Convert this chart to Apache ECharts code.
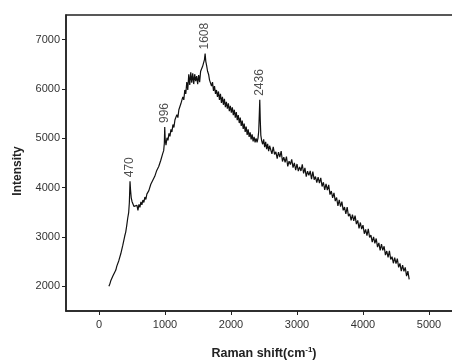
<!DOCTYPE html>
<html>
<head>
<meta charset="utf-8">
<script src="https://cdn.jsdelivr.net/npm/echarts@6/dist/echarts.min.js"></script>
<style>
html,body{margin:0;padding:0;background:#fff}
#main{width:452px;height:360px}
</style>
</head>
<body>
<div id="main"></div>
<script>
// Raman spectrum, [shift cm-1, intensity]
var spectrum=[
[150,2000],[165,2050],[180,2120],[195,2100],[210,2210],[225,2250],[240,2230],[255,2330],[270,2410],[285,2390],
[300,2520],[315,2560],[330,2660],[345,2700],[360,2830],[375,2870],[390,3020],[405,3100],[420,3230],[435,3380],
[450,3500],[460,3700],[470,4130],[478,3950],[488,3800],[500,3720],[515,3680],[530,3620],[545,3660],[560,3580],
[575,3640],[590,3540],[605,3660],[620,3600],[635,3710],[650,3650],[665,3750],[680,3700],[695,3810],[710,3760],
[725,3870],[740,3860],[755,3940],[770,3950],[785,4070],[800,4030],[815,4150],[830,4160],[845,4230],[860,4270],
[875,4350],[890,4370],[905,4430],[920,4490],[935,4550],[950,4580],[965,4690],[980,4750],[990,4900],[996,5230],
[1003,4980],[1015,4860],[1030,5010],[1045,4960],[1060,5100],[1075,5040],[1090,5180],[1105,5130],[1120,5280],[1135,5220],
[1150,5370],[1165,5340],[1180,5480],[1195,5420],[1210,5580],[1225,5550],[1240,5700],[1255,5680],[1270,5840],[1285,5780],
[1300,5980],[1315,5900],[1330,6140],[1345,5980],[1360,6300],[1375,6080],[1390,6340],[1405,6130],[1420,6320],[1435,6100],
[1450,6300],[1465,6160],[1480,6260],[1495,6100],[1510,6280],[1525,6140],[1540,6360],[1555,6370],[1570,6460],[1585,6490],
[1597,6590],[1608,6720],[1618,6560],[1630,6480],[1645,6360],[1660,6300],[1675,6180],[1690,6200],[1705,6060],[1720,6140],
[1735,5960],[1750,6060],[1765,5900],[1780,5980],[1795,5840],[1810,5950],[1825,5780],[1840,5900],[1855,5720],[1870,5840],
[1885,5680],[1900,5800],[1915,5630],[1930,5740],[1945,5600],[1960,5710],[1975,5550],[1990,5660],[2005,5520],[2020,5630],
[2035,5470],[2050,5580],[2065,5420],[2080,5530],[2095,5370],[2110,5470],[2125,5310],[2140,5420],[2155,5250],[2170,5360],
[2185,5190],[2200,5300],[2215,5130],[2230,5240],[2245,5070],[2260,5180],[2275,5030],[2290,5120],[2305,4980],[2320,5080],
[2335,4940],[2350,5030],[2365,4920],[2380,5000],[2395,4920],[2410,5010],[2420,5150],[2428,5450],[2436,5780],[2444,5350],
[2452,5060],[2465,4950],[2480,4880],[2495,4980],[2510,4820],[2525,4930],[2540,4780],[2555,4890],[2570,4740],[2585,4850],
[2600,4830],[2620,4684],[2640,4828],[2660,4672],[2680,4726],[2700,4590],[2720,4720],[2740,4620],[2760,4740],[2780,4530],
[2800,4620],[2820,4514],[2840,4628],[2860,4432],[2880,4536],[2900,4470],[2920,4574],[2940,4408],[2960,4502],[2980,4356],
[3000,4480],[3020,4336],[3040,4422],[3060,4338],[3080,4474],[3100,4290],[3120,4402],[3140,4224],[3160,4336],[3180,4248],
[3200,4340],[3220,4174],[3240,4328],[3260,4162],[3280,4226],[3300,4100],[3320,4216],[3340,4092],[3360,4198],[3380,4024],
[3400,4110],[3420,3954],[3440,4078],[3460,3952],[3480,4056],[3500,3860],[3520,3932],[3540,3794],[3560,3896],[3580,3728],
[3600,3800],[3620,3632],[3640,3754],[3660,3616],[3680,3718],[3700,3540],[3720,3608],[3740,3466],[3760,3604],[3780,3422],
[3800,3470],[3820,3336],[3840,3452],[3860,3328],[3880,3434],[3900,3260],[3920,3338],[3940,3176],[3960,3294],[3980,3162],
[4000,3240],[4020,3066],[4040,3152],[4060,3028],[4080,3164],[4100,2990],[4120,3038],[4140,2896],[4160,3004],[4180,2872],
[4200,2970],[4220,2796],[4240,2882],[4260,2728],[4280,2854],[4300,2730],[4320,2812],[4340,2634],[4360,2716],[4380,2588],
[4400,2720],[4420,2546],[4440,2602],[4460,2468],[4480,2584],[4500,2460],[4520,2562],[4540,2384],[4560,2466],[4580,2308],
[4600,2430],[4620,2302],[4640,2384],[4660,2206],[4680,2308],[4700,2140]
];
var peakShift=[470,996,1608,2436];
var peakIntensity=[4130,5230,6720,5780];
var xTicks=[0,1000,2000,3000,4000,5000];
var yTicks=[2000,3000,4000,5000,6000,7000];

var peaks=[];
for(var i=0;i<peakShift.length;i++){
    peaks.push([peakShift[i],peakIntensity[i]]);
}

var myChart=echarts.init(document.getElementById('main'));
var txt='#222';
option={
    backgroundColor:'#fff',
    animation:false,
    grid:{
        left:66,
        right:-10,
        top:15,
        bottom:49,
        outerBoundsMode:'none',
        show:true,
        borderColor:txt,
        borderWidth:1.5
    },
    xAxis:{
        type:'value',
        min:-500,
        max:5500,
        name:'{a|Raman shift(cm}{s|-1}{a|)}',
        nameLocation:'middle',
        nameGap:35,
        nameTextStyle:{
            rich:{
                a:{fontFamily:'Liberation Sans',fontWeight:'bold',fontSize:12.5,color:txt},
                s:{fontFamily:'Liberation Sans',fontWeight:'bold',fontSize:8,color:txt,verticalAlign:'top',padding:[0,0,7,0]}
            }
        },
        axisLine:{onZero:false,lineStyle:{color:txt,width:1.5}},
        axisTick:{length:4,lineStyle:{color:txt,width:1},customValues:xTicks},
        axisLabel:{fontFamily:'Liberation Sans',fontSize:11,color:'#333',margin:8,customValues:xTicks,
            formatter:function(v){return String(v);}},
        splitLine:{show:false}
    },
    yAxis:{
        type:'value',
        min:1500,
        max:7500,
        name:'Intensity',
        nameLocation:'middle',
        nameGap:42,
        nameTextStyle:{fontFamily:'Liberation Sans',fontWeight:'bold',fontSize:12,color:txt,padding:[0,16,0,0]},
        axisLine:{onZero:false,lineStyle:{color:txt,width:1.5}},
        axisTick:{length:4,lineStyle:{color:txt,width:1},customValues:yTicks},
        axisLabel:{fontFamily:'Liberation Sans',fontSize:11,color:'#333',margin:6,customValues:yTicks,
            formatter:function(v){return String(v);}},
        splitLine:{show:false}
    },
    series:[
        {
            name:'Raman',
            type:'line',
            data:spectrum,
            showSymbol:false,
            symbol:'none',
            lineStyle:{color:'#111',width:1.2},
            z:2
        },
        {
            name:'peaks',
            type:'scatter',
            data:peaks,
            symbolSize:0,
            label:{
                show:true,
                position:'top',
                rotate:90,
                align:'left',
                verticalAlign:'middle',
                distance:4,
                fontFamily:'Liberation Sans',
                fontSize:12,
                color:txt,
                formatter:function(p){return String(p.value[0]);}
            },
            z:3
        }
    ]
};
myChart.setOption(option);
</script>
</body>
</html>
